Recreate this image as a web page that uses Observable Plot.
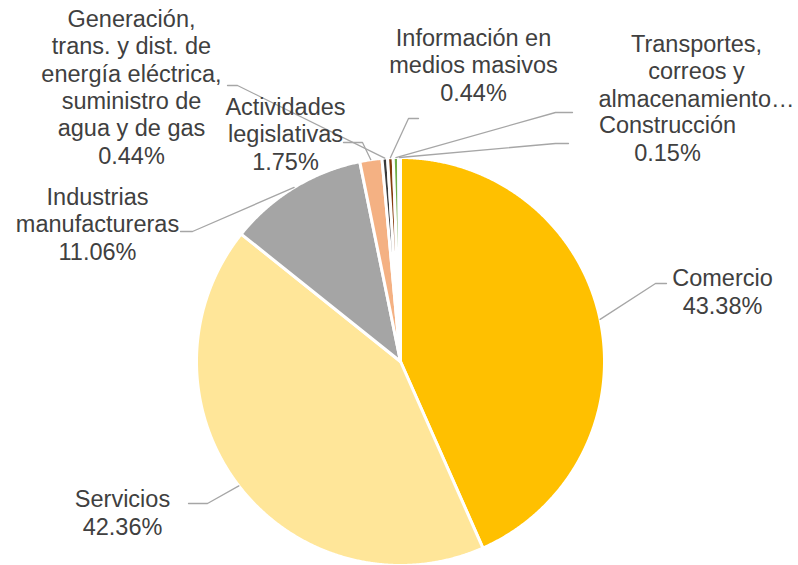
<!DOCTYPE html>
<html>
<head>
<meta charset="utf-8">
<script src="https://cdn.jsdelivr.net/npm/d3@7"></script>
<script src="https://cdn.jsdelivr.net/npm/@observablehq/plot@0.6"></script>
<style>
  html, body { margin: 0; padding: 0; background: #ffffff; }
  #chart svg { display: block; }
</style>
</head>
<body>
<div id="chart"></div>
<script>
// ---- data ----
const categories = [
  "Comercio",
  "Servicios",
  "Industrias manufactureras",
  "Actividades legislativas",
  "Generación, trans. y dist. de energía eléctrica, suministro de agua y de gas",
  "Información en medios masivos",
  "Transportes, correos y almacenamiento",
  "Construcción"
];
const values = [43.38, 42.36, 11.06, 1.75, 0.44, 0.44, 0.42, 0.15];
const labelTexts = [
  "Comercio\n43.38%",
  "Servicios\n42.36%",
  "Industrias\nmanufactureras\n11.06%",
  "Actividades\nlegislativas\n1.75%",
  "Generación,\ntrans. y dist. de\nenergía eléctrica,\nsuministro de\nagua y de gas\n0.44%",
  "Información en\nmedios masivos\n0.44%",
  "Transportes,\ncorreos y\nalmacenamiento…",
  "Construcción\n0.15%"
];
const colors = ["#FFC000", "#FFE699", "#A5A5A5", "#F4B183", "#3A3A3A", "#843C0C", "#70AD47", "#A9D18E"];

// ---- layout (pixel-space positions of the plot frame) ----
const W = 798, H = 565;
const cx = 400, cy = 361, R = 204;
// label anchor: x centre, y = baseline of last line
const labelPos = [
  [722, 313], [122, 534], [97, 259], [285, 169],
  [131, 163], [473, 100], [696, 106], [667, 160]
];
// leader line elbows after the slice edge point
const leaderElbows = [
  [[655, 283], [666, 283]],
  [[207, 503], [188, 503]],
  [[192, 231], [180, 231]],
  [[362, 142], [343, 142]],
  [[237, 85], [227, 85]],
  [[408, 118], [418, 118]],
  [[555, 112], [572, 112]],
  [[555, 143], [568, 143]]
];

// ---- build geometry from data ----
const arcs = d3.pie().sort(null).value(d => d)(values);
const slicePts = [];
arcs.forEach((a, i) => {
  const cat = categories[i];
  slicePts.push({cat, x: cx, y: cy});
  const n = Math.max(2, Math.ceil((a.endAngle - a.startAngle) / 0.005));
  for (let k = 0; k <= n; k++) {
    const t = a.startAngle + (a.endAngle - a.startAngle) * k / n;
    slicePts.push({cat, x: cx + R * Math.sin(t), y: cy - R * Math.cos(t)});
  }
  slicePts.push({cat, x: cx, y: cy});
});

const leaderPts = [];
arcs.forEach((a, i) => {
  const m = (a.startAngle + a.endAngle) / 2;
  const cat = categories[i];
  leaderPts.push({cat, x: cx + R * Math.sin(m), y: cy - R * Math.cos(m)});
  leaderElbows[i].forEach(([x, y]) => leaderPts.push({cat, x, y}));
});

const labels = categories.map((c, i) => ({cat: c, text: labelTexts[i], x: labelPos[i][0], y: labelPos[i][1]}));

const chart = Plot.plot({
  width: W,
  height: H,
  margin: 0,
  x: {domain: [0, W], range: [0, W], axis: null},
  y: {domain: [0, H], range: [0, H], axis: null},
  color: {domain: categories, range: colors},
  style: {fontFamily: "'Liberation Sans', Arial, sans-serif", background: "#ffffff"},
  marks: [
    Plot.line(slicePts, {x: "x", y: "y", z: "cat", fill: "cat", stroke: "#ffffff", strokeWidth: 3, strokeLinejoin: "round", curve: "linear"}),
    Plot.line(leaderPts, {x: "x", y: "y", z: "cat", stroke: "#A6A6A6", strokeWidth: 1.3, curve: "linear"}),
    Plot.text(labels, {x: "x", y: "y", text: "text", lineAnchor: "bottom", lineHeight: 1.16, fontSize: 23.5, fill: "#404040", textAnchor: "middle"})
  ]
});
document.getElementById("chart").appendChild(chart);
</script>
</body>
</html>
